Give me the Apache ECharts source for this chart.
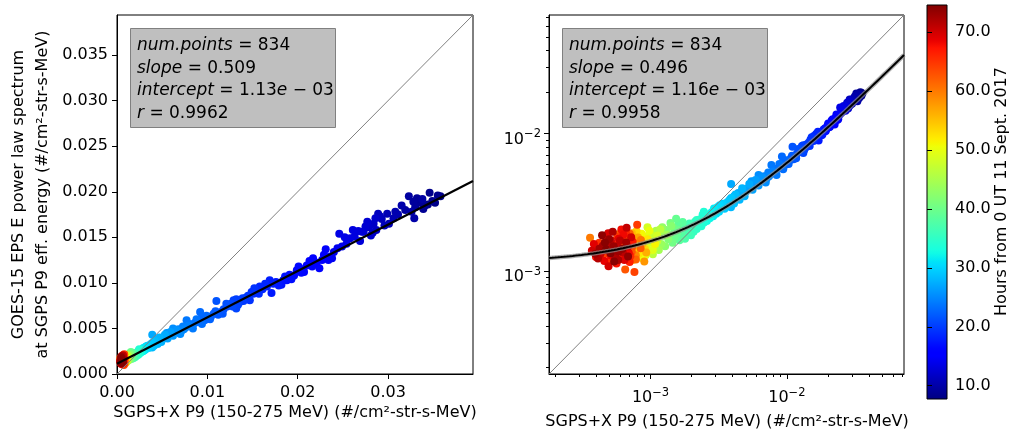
<!DOCTYPE html>
<html><head><meta charset="utf-8">
<script src="https://cdn.jsdelivr.net/npm/echarts@6/dist/echarts.min.js"></script>
<style>html,body{margin:0;padding:0;background:#fff}#c{width:1011px;height:431px}</style>
</head><body><div id="c"></div>
<script>
// SGPS+X P9 flux (x), GOES-15 EPS flux (y), hours from 0 UT 11 Sept 2017 (colour)
const sgps = [
0.0358,0.0352,0.0346,0.0349,0.0341,0.0335,0.0332,0.0328,0.0323,0.0338,
0.0326,0.0315,0.0311,0.0306,0.0299,0.0293,0.0296,0.0291,0.0287,0.0284,
0.0279,0.0281,0.0277,0.0273,0.0271,0.0267,0.0263,0.0258,0.0246,0.0254,
0.0249,0.0240,0.0236,0.0234,0.0229,0.0227,0.0221,0.0217,0.0216,0.0210,
0.0205,0.0199,0.0204,0.0196,0.0191,0.0188,0.0184,0.0182,0.0176,0.0171,
0.0169,0.0166,0.0161,0.0158,0.0155,0.0151,0.0149,0.0147,0.0143,0.0140,
0.0136,0.0132,0.0129,0.0132,0.0126,0.0122,0.0118,0.0115,0.0110,0.0112,
0.0107,0.0104,0.0100,0.0097,0.0093,0.0092,0.0089,0.0086,0.0083,0.0080,
0.0077,0.0076,0.0073,0.0071,0.0068,0.0066,0.0063,0.0062,0.0060,0.0058,
0.0055,0.0054,0.0052,0.0050,0.0048,0.0046,0.0039,0.0044,0.0043,0.0041,
0.00402,0.00389,0.00381,0.00368,0.00357,0.00349,0.00337,0.00329,0.00318,0.00311,
0.00303,0.00297,0.00288,0.00281,0.00272,0.00268,0.00259,0.00252,0.00247,0.00241,
0.00236,0.00229,0.00223,0.00218,0.00212,0.00207,0.00203,0.00198,0.00193,0.00188,
0.00183,0.00179,0.00175,0.00171,0.00167,0.00163,0.00160,0.00157,0.00154,0.00150,
0.00148,0.00145,0.00140,0.00138,0.00135,0.00130,0.00128,0.00125,0.00122,0.00120,
0.00118,0.00115,0.00112,0.00110,0.00108,0.00106,0.00104,0.00102,0.00100,0.00099,
0.00097,0.00095,0.00094,0.00092,0.00091,0.00089,0.00088,0.00086,0.00085,0.00083,
0.00082,0.00080,0.00079,0.00077,0.00076,0.00074,0.00073,0.00071,0.00070,0.00068,
0.00067,0.00090,0.00065,0.00064,0.00062,0.00036,0.00060,0.00058,
0.000618,0.000781,0.000549,0.000703,0.000652,0.000478,0.000734,0.000592,0.000681,0.000521,
0.000762,0.000452,0.000798,0.000571,0.000634,0.000421,0.000712,0.000503,0.000659,0.000538,
0.000401,0.000602,0.000741,0.000468,0.000563,0.000611,0.000437,0.000692,0.000509,0.000584,
0.000384,0.000643,0.000489,0.000492,0.000721,0.000428,0.000572,0.000668,0.000458,0.000597,
0.000412,0.000551,0.000528,0.000447,0.000663,0.000393,0.000582,0.000497,0.000621,0.000441,
0.000541,0.000472,
// second reading pass
0.0344,0.0355,0.0339,0.0330,0.0319,0.0329,0.0308,0.0301,0.0289,0.0283,
0.0286,0.0275,0.0269,0.0261,0.0252,0.0244,0.0238,0.0231,0.0224,0.0213,
0.0207,0.0201,0.0193,0.0186,0.0179,0.0173,0.0164,0.0157,0.0152,0.0145,
0.0139,0.0134,0.0128,0.0121,0.0117,0.0109,0.0103,0.0099,0.0094,0.0088,
0.0084,0.0079,0.0074,0.0070,0.0066,0.0062,0.0059,0.0056,0.0053,0.0049,
0.0047,0.0045,0.0042,0.0041,0.0039,0.0037,
0.00322,0.00292,0.00262,0.00246,0.00218,0.00196,
0.00172,0.00158,0.00142,0.00131,0.00118,0.00112,
0.00112,0.00104,0.00098,0.00108,0.00095,0.00091,
0.00087,0.00093,0.00081,0.00069,0.00078,0.00085,0.00072,
0.000845,0.000728,0.000612,0.000457,0.000538,0.000689,0.000413,0.000591,0.000477,0.000703,
0.000524,0.000398,0.000632,0.000458,0.000547,0.000681,0.000371,0.000512,0.000626,0.000482,
0.000579,0.000421,0.000537,0.000684,0.000463,0.000509
];
const goes = [
0.0195,0.0188,0.0199,0.0190,0.0185,0.0188,0.0193,0.0189,0.0195,0.0192,
0.0178,0.0185,0.0175,0.0171,0.0176,0.0170,0.0163,0.0173,0.0158,0.0165,
0.0161,0.0152,0.0167,0.0156,0.0156,0.0157,0.0151,0.0149,0.0154,0.0143,
0.0140,0.0134,0.0129,0.0125,0.0131,0.0125,0.0122,0.0127,0.0118,0.0119,
0.0115,0.0114,0.0111,0.0108,0.0109,0.0103,0.0103,0.0098,0.0101,0.0089,
0.0103,0.0096,0.0093,0.0096,0.0092,0.0088,0.0090,0.0081,0.0084,0.0080,
0.0079,0.0082,0.0081,0.0072,0.0077,0.0074,0.0071,0.0068,0.0080,0.0065,
0.0066,0.0063,0.0062,0.0059,0.0061,0.0068,0.0057,0.0056,0.0054,0.0055,
0.0059,0.0051,0.0052,0.0047,0.0049,0.0046,0.0047,0.0050,0.0043,0.0044,
0.0045,0.0041,0.0040,0.0038,0.0039,0.0036,0.0043,0.0037,0.0034,0.0035,
0.00318,0.00292,0.00331,0.00301,0.00312,0.00284,0.00309,0.00288,0.00271,0.00293,
0.00262,0.00279,0.00251,0.00268,0.00243,0.00259,0.00232,0.00252,0.00226,0.00257,
0.00212,0.00238,0.00221,0.00203,0.00229,0.00194,0.00214,0.00183,0.00222,0.00192,
0.00201,0.00172,0.00208,0.00181,0.00197,0.00168,0.00219,0.00188,0.00241,0.00176,
0.00207,0.00161,0.00224,0.00186,0.00171,0.00199,0.00152,0.00181,0.00209,0.00158,
0.00189,0.00143,0.00168,0.00197,0.00149,0.00178,0.00133,0.00162,0.00188,0.00141,
0.00172,0.00209,0.00151,0.00131,0.00179,0.00157,0.00124,0.00187,0.00148,0.00167,
0.00134,0.00159,0.00196,0.00142,0.00171,0.00121,0.00189,0.00148,0.00166,0.00129,
0.00157,0.00118,0.00178,0.00139,0.00161,0.00175,0.00123,0.00186,
0.00158,0.00122,0.00141,0.00187,0.00103,0.00168,0.00151,0.00124,0.00173,0.00147,
0.00099,0.00132,0.00218,0.00179,0.00138,0.00161,0.00129,0.00119,0.00192,0.00156,
0.00143,0.00127,0.00164,0.00181,0.00114,0.00201,0.00149,0.00136,0.00131,0.00172,
0.00158,0.00121,0.00189,0.00109,0.00177,0.00133,0.00152,0.00207,0.00142,0.00167,
0.00124,0.00128,0.00194,0.00153,0.00162,0.00134,0.00139,0.00171,0.00146,0.00183,
0.00118,0.00144,
0.0186,0.0196,0.0181,0.0183,0.0180,0.0171,0.0178,0.0165,0.0176,0.0155,
0.0171,0.0162,0.0146,0.0158,0.0150,0.0138,0.0127,0.0137,0.0116,0.0124,
0.0112,0.0118,0.0104,0.0107,0.0097,0.0099,0.0099,0.0088,0.0094,0.0086,
0.0083,0.0076,0.0074,0.0077,0.0066,0.0069,0.0060,0.0064,0.0055,0.0060,
0.0050,0.0053,0.0049,0.0044,0.0048,0.0042,0.0046,0.0039,0.0043,0.0035,
0.0040,0.0033,0.0036,0.0031,0.0034,0.0032,
0.00301,0.00286,0.00247,0.00271,0.00236,0.00209,
0.00228,0.00199,0.00213,0.00184,0.00202,0.00166,
0.00182,0.00143,0.00197,0.00158,0.00171,0.00145,
0.00158,0.00137,0.00176,0.00148,0.00131,0.00169,0.00152,
0.00147,0.00139,0.00172,0.00154,0.00127,0.00158,0.00137,0.00148,0.00166,0.00117,
0.00139,0.00127,0.00184,0.00119,0.00143,0.00151,0.00141,0.00168,0.00137,0.00158,
0.00121,0.00146,0.00152,0.00128,0.00162,0.00135
];
const hours = [
8.0,8.2,8.4,8.6,8.8,9.0,9.2,9.4,9.6,9.8,
10.0,10.2,10.4,10.6,10.8,11.0,11.2,11.4,11.6,11.8,
12.0,12.2,12.4,12.6,12.8,13.0,13.2,13.4,13.6,13.8,
14.0,14.2,14.4,14.6,14.8,15.0,15.2,15.4,15.6,15.8,
16.0,16.2,16.4,16.6,16.8,17.0,17.2,17.4,17.6,17.8,
18.0,18.2,18.4,18.6,18.8,19.0,19.2,19.4,19.6,19.8,
20.0,20.2,20.4,20.6,20.8,21.0,21.2,21.4,21.6,21.8,
22.0,22.2,22.4,22.6,22.8,23.0,23.2,23.4,23.6,23.8,
24.0,24.2,24.4,24.6,24.8,25.0,25.2,25.4,25.6,25.8,
26.0,26.2,26.4,26.6,26.8,27.0,27.2,27.4,27.6,27.8,
28.0,28.3,28.6,28.9,29.2,29.5,29.8,30.1,30.4,30.7,
31.0,31.3,31.6,31.9,32.2,32.5,32.8,33.1,33.4,33.7,
34.0,34.3,34.6,34.9,35.2,35.5,35.8,36.1,36.4,36.7,
37.0,37.3,37.6,37.9,38.2,38.5,38.8,39.1,39.4,39.7,
40.0,40.4,40.8,41.2,41.6,42.0,42.4,42.8,43.2,43.6,
44.0,44.4,44.8,45.2,45.6,46.0,46.4,46.8,47.2,47.6,
48.0,48.4,48.8,49.2,49.6,50.0,50.5,51.0,51.5,52.0,
52.5,53.0,53.5,54.0,54.5,55.0,55.5,56.0,56.5,57.0,
57.5,58.0,58.5,59.0,59.5,60.0,60.5,61.0,
61.50,61.75,62.00,62.25,62.50,62.75,63.00,63.25,63.50,63.75,
64.00,64.25,64.50,64.75,65.00,65.25,65.50,65.75,66.00,66.25,
66.50,66.75,67.00,67.25,67.50,67.75,68.00,68.25,68.50,68.75,
69.00,69.25,69.50,69.75,70.00,70.25,70.50,70.75,71.00,71.25,
71.50,71.75,72.00,72.25,72.50,72.75,73.00,73.25,73.50,73.75,
74.00,74.25,
8.1,8.5,8.9,9.3,9.7,10.1,10.5,10.9,11.3,11.7,
12.1,12.5,12.9,13.3,13.7,14.1,14.5,14.9,15.3,15.7,
16.1,16.5,16.9,17.3,17.7,18.1,18.5,18.9,19.3,19.7,
20.1,20.5,20.9,21.3,21.7,22.1,22.5,22.9,23.3,23.7,
24.1,24.5,24.9,25.3,25.7,26.1,26.5,26.9,27.3,27.7,
27.9,28.15,28.45,28.75,29.05,29.35,
30.2,31.4,32.6,33.8,35.0,36.2,
38.4,40.2,42.2,44.2,46.2,47.4,
48.2,49.4,50.2,51.2,52.2,53.2,
55.2,56.2,57.2,58.2,59.2,60.2,61.2,
62.1,62.6,63.1,63.6,64.1,64.6,65.1,65.6,66.1,66.6,
67.1,67.6,68.1,68.6,69.1,69.6,70.1,70.6,71.1,71.6,
72.1,72.6,73.1,73.6,74.1,74.4
];
const slopes = [0.509, 0.496];
const intercepts = [1.13e-3, 1.16e-3];
const numPoints = ['834', '834'];
const slopeText = ['0.509', '0.496'];
const interceptText = ['1.13', '1.16'];
const rText = ['0.9962', '0.9958'];
const linTicksX = [0, 0.01, 0.02, 0.03];
const linTicksY = [0, 0.005, 0.010, 0.015, 0.020, 0.025, 0.030, 0.035];
const logMajor = [1e-3, 1e-2];
const logMinor = [2e-4,3e-4,4e-4,5e-4,6e-4,7e-4,8e-4,9e-4,2e-3,3e-3,4e-3,5e-3,6e-3,7e-3,8e-3,9e-3,2e-2,3e-2,4e-2,5e-2,6e-2,7e-2];
const cbTicks = [10, 20, 30, 40, 50, 60, 70];
const LIN_MAX = 0.0394, LOG_MIN = 1.80e-4, LOG_MAX = 0.0723;
const H_MIN = 7.74, H_MAX = 74.63;

const FONT = 'DejaVu Sans';
function jet(t){
  function seg(p){for(let i=1;i<p.length;i++){if(t<=p[i][0]){const a=p[i-1],b=p[i];return a[1]+(b[1]-a[1])*(t-a[0])/(b[0]-a[0]);}}return p[p.length-1][1];}
  const r=seg([[0,0],[0.35,0],[0.66,1],[0.89,1],[1,0.5]]);
  const g=seg([[0,0],[0.125,0],[0.375,1],[0.64,1],[0.91,0],[1,0]]);
  const b=seg([[0,0.5],[0.11,1],[0.34,1],[0.65,0],[1,0]]);
  return 'rgb('+Math.round(r*255)+','+Math.round(g*255)+','+Math.round(b*255)+')';
}
const jetColors = [], stops = [];
for (let i=0;i<=100;i++){ jetColors.push(jet(i/100)); stops.push({offset:i/100, color:jet(1-i/100)}); }

// points drawn in time order (later hours on top)
const pts = sgps.map((x,i)=>[x, goes[i], hours[i]]).sort((a,b)=>a[2]-b[2]);
const fitLin = [[0, intercepts[0]], [LIN_MAX, slopes[0]*LIN_MAX + intercepts[0]]];
const fitLog = [];
for (let k=0;k<=120;k++){ const lx = Math.log10(LOG_MIN) + (Math.log10(LOG_MAX)-Math.log10(LOG_MIN))*k/120; const x = Math.pow(10, lx); fitLog.push([x, slopes[1]*x + intercepts[1]]); }

function logFmt(v){ const e = Math.round(Math.log10(v)); return '{b|10}{s|' + (e<0?'−':'') + Math.abs(e) + '}'; }
function logFmtX(v){ return '{g|}\n' + logFmt(v); }
const logRich = {b:{fontSize:16, lineHeight:22, verticalAlign:'middle', fontFamily:'DejaVu Sans', color:'#000'}, s:{fontSize:11.5, lineHeight:12, verticalAlign:'top', fontFamily:'DejaVu Sans', color:'#000'}, g:{fontSize:1, lineHeight:3, height:3}};

const xName = 'SGPS+X P9 (150-275 MeV) (#/cm²-str-s-MeV)';
const yName = 'GOES-15 EPS E power law spectrum\nat SGPS P9 eff. energy (#/cm²-str-s-MeV)';
const txt = {fontSize:16, color:'#000', fontFamily:FONT};
const tick = (vals, len) => ({show:true, customValues:vals, length:len, lineStyle:{color:'#000', width:1}});
const line = {show:true, onZero:false, lineStyle:{color:'#000', width:1}};

function statBox(x0, idx){
  return [
    {type:'rect', z:50, shape:{x:x0+0.5, y:28.5, width:205, height:99}, style:{fill:'#bfbfbf', stroke:'#808080', lineWidth:1}},
    {type:'text', z:51, style:{x:x0+7, y:34.5, fill:'#000', fontSize:17, fontFamily:FONT, lineHeight:22.5,
      text:'{i|num.points} = '+numPoints[idx]+'\n{i|slope} = '+slopeText[idx]+'\n{i|intercept} = '+interceptText[idx]+'{i|e} − 03\n{i|r} = '+rText[idx],
      rich:{i:{fontStyle:'italic', fontSize:17, fontFamily:FONT, lineHeight:22.5, fill:'#000'}}}}
  ];
}
function axisTitle(cx, cy){
  return {type:'text', x:cx, y:cy, style:{text:xName, align:'center', verticalAlign:'middle', fontSize:16, fontFamily:FONT, fill:'#000'}};
}

const chart = echarts.init(document.getElementById('c'), null, {renderer:'canvas'});
chart.setOption({
  animation:false,
  backgroundColor:'#fff',
  grid:[
    {left:117, top:15, width:356, height:359, show:true, borderColor:'#000', borderWidth:1, backgroundColor:'rgba(0,0,0,0)'},
    {left:549, top:15, width:355, height:359, show:true, borderColor:'#000', borderWidth:1, backgroundColor:'rgba(0,0,0,0)'},
    {left:927, top:5, width:20, height:394, show:true, borderColor:'#000', borderWidth:1, backgroundColor:new echarts.graphic.LinearGradient(0,0,0,1,stops)}
  ],
  xAxis:[
    {gridIndex:0, type:'value', min:0, max:LIN_MAX, axisLine:line, splitLine:{show:false}, axisTick:tick(linTicksX,5),
     axisLabel:Object.assign({customValues:linTicksX, margin:10, padding:[1,0,0,0], hideOverlap:false, formatter:v=>v.toFixed(2)}, txt)},
    {gridIndex:1, type:'log', logBase:10, min:LOG_MIN, max:LOG_MAX, axisLine:line, splitLine:{show:false}, axisTick:tick(logMajor,5),
     axisLabel:{customValues:logMajor, margin:10, hideOverlap:false, formatter:logFmtX, rich:logRich}},
    {gridIndex:1, type:'log', logBase:10, position:'bottom', min:LOG_MIN, max:LOG_MAX, axisLine:{show:false}, splitLine:{show:false},
     axisTick:tick(logMinor,3), axisLabel:{show:false}},
    {gridIndex:2, type:'value', min:0, max:1, show:false}
  ],
  yAxis:[
    {gridIndex:0, type:'value', min:0, max:LIN_MAX, axisLine:line, splitLine:{show:false}, axisTick:tick(linTicksY,5),
     axisLabel:Object.assign({customValues:linTicksY, margin:9, formatter:v=>v.toFixed(3)}, txt),
     name:yName, nameLocation:'middle', nameRotate:90, nameGap:62, nameMoveOverlap:false, nameTextStyle:Object.assign({lineHeight:24}, txt)},
    {gridIndex:1, type:'log', logBase:10, min:LOG_MIN, max:LOG_MAX, axisLine:line, splitLine:{show:false}, axisTick:tick(logMajor,5),
     axisLabel:{customValues:logMajor, margin:8, padding:[12,0,0,0], formatter:logFmt, rich:logRich}},
    {gridIndex:1, type:'log', logBase:10, position:'left', min:LOG_MIN, max:LOG_MAX, axisLine:{show:false}, splitLine:{show:false},
     axisTick:tick(logMinor,3), axisLabel:{show:false}},
    {gridIndex:2, type:'value', position:'right', min:H_MIN, max:H_MAX, axisLine:{show:false}, splitLine:{show:false},
     axisTick:tick(cbTicks,5), axisLabel:Object.assign({customValues:cbTicks, margin:8, formatter:v=>v.toFixed(1)}, txt)}
  ],
  visualMap:{type:'continuous', show:false, min:H_MIN, max:H_MAX, dimension:2, seriesIndex:[0,3], inRange:{color:jetColors}},
  series:[
    {type:'scatter', xAxisIndex:0, yAxisIndex:0, data:pts, symbolSize:8, itemStyle:{opacity:1}, z:2},
    {type:'line', xAxisIndex:0, yAxisIndex:0, data:[[0,0],[LIN_MAX,LIN_MAX]], symbol:'none', lineStyle:{color:'#808080', width:1}, z:3},
    {type:'line', xAxisIndex:0, yAxisIndex:0, data:fitLin, symbol:'none', lineStyle:{color:'#000', width:2.2}, z:4},
    {type:'scatter', xAxisIndex:1, yAxisIndex:1, data:pts, symbolSize:8, itemStyle:{opacity:1}, z:2},
    {type:'line', xAxisIndex:1, yAxisIndex:1, data:[[LOG_MIN,LOG_MIN],[LOG_MAX,LOG_MAX]], symbol:'none', lineStyle:{color:'#808080', width:1}, z:3},
    {type:'line', xAxisIndex:1, yAxisIndex:1, data:fitLog, symbol:'none', lineStyle:{color:'rgba(140,140,140,0.7)', width:4.5}, z:4},
    {type:'line', xAxisIndex:1, yAxisIndex:1, data:fitLog, symbol:'none', lineStyle:{color:'#000', width:2}, z:5}
  ],
  graphic:[].concat(statBox(130,0), statBox(562,1), [
    axisTitle(295, 413), axisTitle(727, 421.5),
    {type:'text', x:1002, y:191.5, rotation:Math.PI/2, style:{text:'Hours from 0 UT 11 Sept. 2017', align:'center', verticalAlign:'middle', fontSize:16, fontFamily:FONT, fill:'#000'}}
  ])
});
</script>
</body></html>
